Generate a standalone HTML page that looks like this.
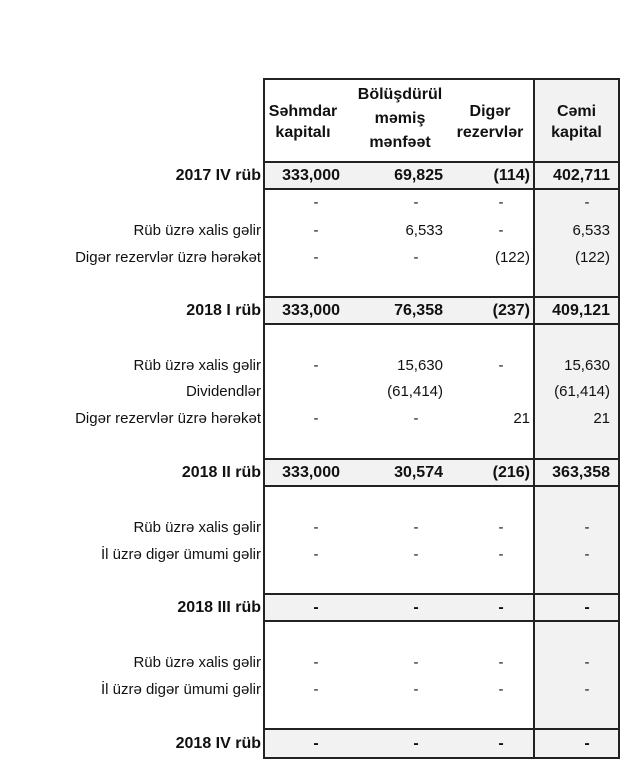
<!DOCTYPE html>
<html><head><meta charset="utf-8"><style>
body{margin:0;width:620px;height:757px;background:#fff;position:relative;overflow:hidden;font-family:"Liberation Sans",Arial,sans-serif;font-size:15px;color:#111}
.a{position:absolute;white-space:nowrap;line-height:18px}
.b{font-weight:bold;font-size:16px}
.r{text-align:right}
.c{text-align:center}
.box{position:absolute;border:2px solid #222;box-sizing:border-box}
.hl{position:absolute;left:264px;width:355px;height:2px;background:#222}
.g{position:absolute;background:#f2f2f2}
</style></head><body>
<div class="g" style="left:535px;top:79px;width:83px;height:678px"></div>
<div class="g" style="left:265px;top:163px;width:270px;height:26px"></div>
<div class="g" style="left:265px;top:298px;width:270px;height:26px"></div>
<div class="g" style="left:265px;top:460px;width:270px;height:26px"></div>
<div class="g" style="left:265px;top:595px;width:270px;height:26px"></div>
<div class="g" style="left:265px;top:730px;width:270px;height:27px"></div>
<div class="box" style="left:263px;top:78px;width:357px;height:681px"></div>
<div style="position:absolute;left:533px;top:78px;width:2px;height:679px;background:#222"></div>
<div class="hl" style="top:161px"></div>
<div class="hl" style="top:188px"></div>
<div class="hl" style="top:296px"></div>
<div class="hl" style="top:323px"></div>
<div class="hl" style="top:458px"></div>
<div class="hl" style="top:485px"></div>
<div class="hl" style="top:593px"></div>
<div class="hl" style="top:620px"></div>
<div class="hl" style="top:728px"></div>
<div class="a b c" style="left:264px;width:78px;top:101px;line-height:21px">Səhmdar<br>kapitalı</div>
<div class="a b c" style="left:345px;width:110px;top:83px;line-height:24px">Bölüşdürül<br>məmiş<br>mənfəət</div>
<div class="a b c" style="left:446px;width:88px;top:101px;line-height:21px">Digər<br>rezervlər</div>
<div class="a b c" style="left:535px;width:83px;top:101px;line-height:21px">Cəmi<br>kapital</div>
<div id="rows"></div>
<script>
const rows=[
[167,1,"2017 IV rüb","333,000","69,825","(114)","402,711"],
[194,0,"","-","-","-","-"],
[222,0,"Rüb üzrə xalis gəlir","-","6,533","-","6,533"],
[249,0,"Digər rezervlər üzrə hərəkət","-","-","(122)","(122)"],
[302,1,"2018 I rüb","333,000","76,358","(237)","409,121"],
[357,0,"Rüb üzrə xalis gəlir","-","15,630","-","15,630"],
[383,0,"Dividendlər","","(61,414)","","(61,414)"],
[410,0,"Digər rezervlər üzrə hərəkət","-","-","21","21"],
[464,1,"2018 II rüb","333,000","30,574","(216)","363,358"],
[519,0,"Rüb üzrə xalis gəlir","-","-","-","-"],
[546,0,"İl üzrə digər ümumi gəlir","-","-","-","-"],
[599,1,"2018 III rüb","-","-","-","-"],
[654,0,"Rüb üzrə xalis gəlir","-","-","-","-"],
[681,0,"İl üzrə digər ümumi gəlir","-","-","-","-"],
[735,1,"2018 IV rüb","-","-","-","-"]];
const numR=[340,443,530,610], dashC=[316,416,501,587];
let h="";
for(const r of rows){
 const cls="a"+(r[1]?" b":"");
 h+=`<div class="${cls} r" style="right:${620-261}px;top:${r[0]}px">${r[2]}</div>`;
 for(let i=0;i<4;i++){const v=r[3+i];if(!v)continue;
  if(v==="-")h+=`<div class="${cls} c" style="left:${dashC[i]-10}px;width:20px;top:${r[0]}px">-</div>`;
  else h+=`<div class="${cls} r" style="right:${620-numR[i]}px;top:${r[0]}px">${v}</div>`;}
}
document.getElementById("rows").innerHTML=h;
</script>
</body></html>
